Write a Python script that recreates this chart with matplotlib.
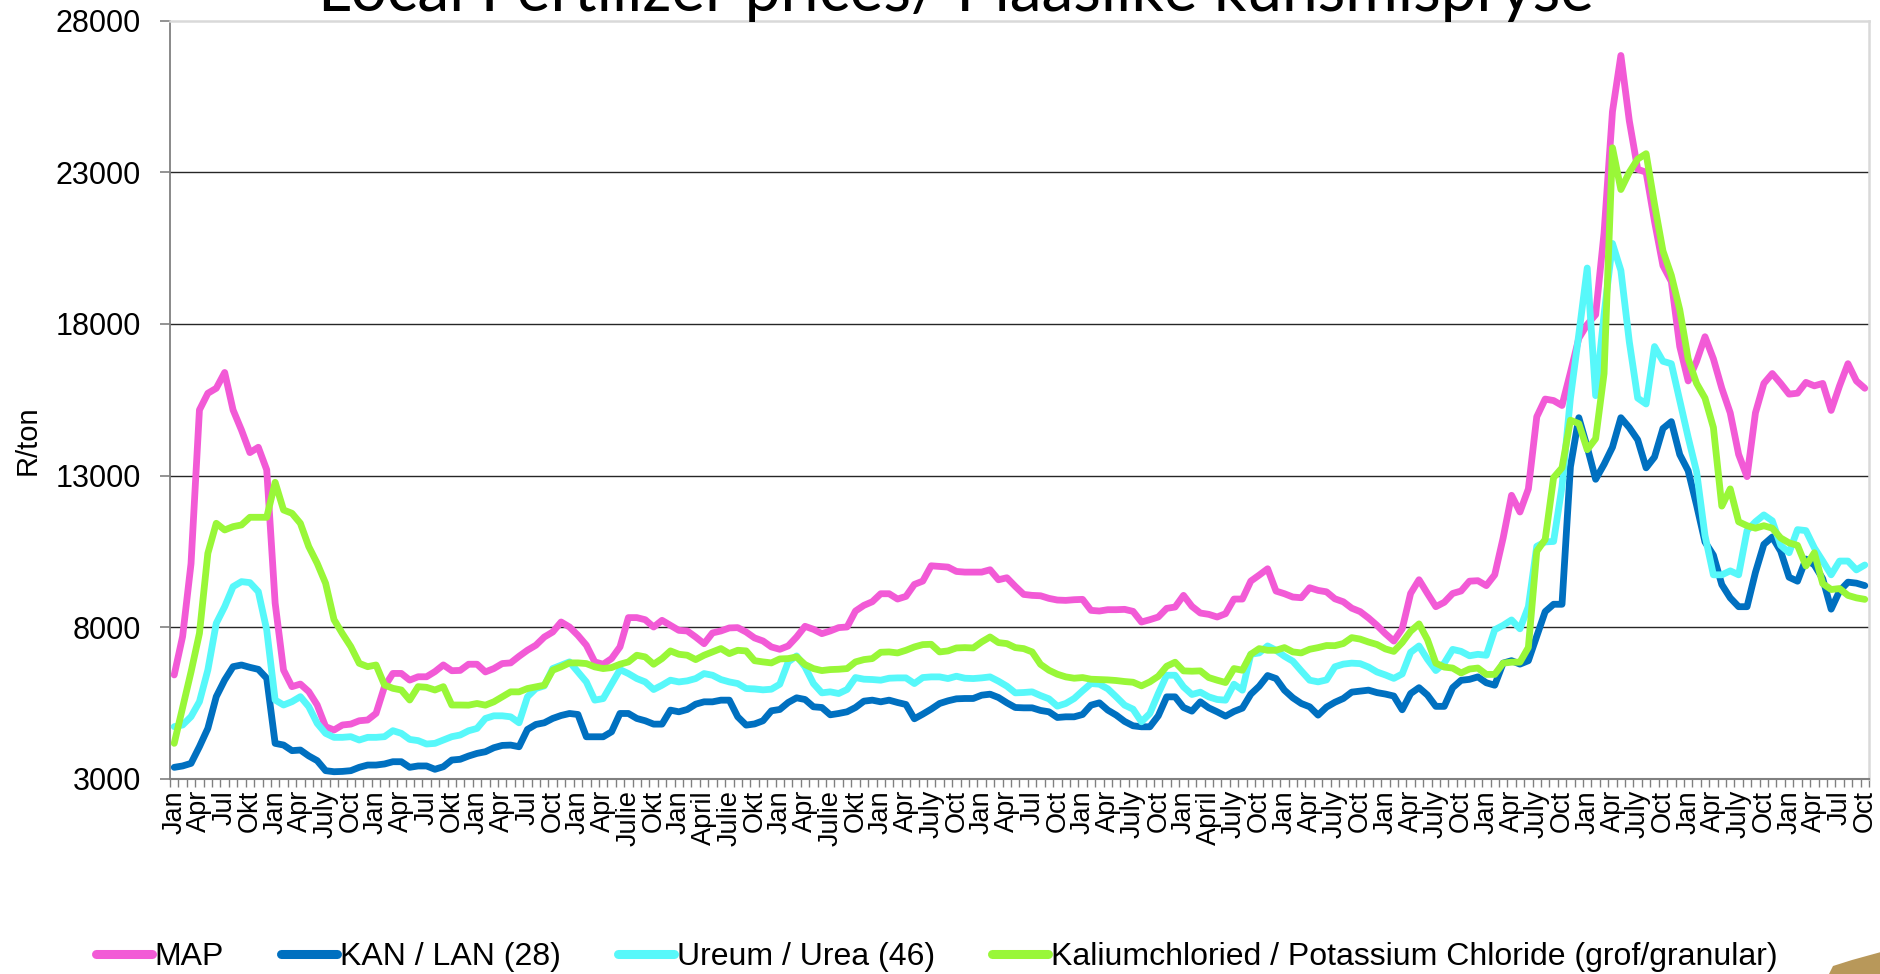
import numpy as np
import matplotlib
matplotlib.use("Agg")
import matplotlib.pyplot as plt
from matplotlib.lines import Line2D
from matplotlib.patches import Polygon

# ---------------- data (monthly, Jan 2008 .. Oct 2024) ----------------
year_labels = [
    ["Jan", "Apr", "Jul", "Okt"],
    ["Jan", "Apr", "July", "Oct"],
    ["Jan", "Apr", "Jul", "Okt"],
    ["Jan", "Apr", "Jul", "Oct"],
    ["Jan", "Apr", "Julie", "Okt"],
    ["Jan", "April", "Julie", "Okt"],
    ["Jan", "Apr", "Julie", "Okt"],
    ["Jan", "Apr", "July", "Oct"],
    ["Jan", "Apr", "Jul", "Oct"],
    ["Jan", "Apr", "July", "Oct"],
    ["Jan", "April", "July", "Oct"],
    ["Jan", "Apr", "July", "Oct"],
    ["Jan", "Apr", "July", "Oct"],
    ["Jan", "Apr", "July", "Oct"],
    ["Jan", "Apr", "July", "Oct"],
    ["Jan", "Apr", "July", "Oct"],
    ["Jan", "Apr", "Jul", "Oct"],
]
tick_labels = [lab for yr in year_labels for lab in yr]

map_prices = [
    6430, 7700, 10100, 15165, 15715, 15880, 16400, 15165, 14500, 13760, 13935, 13190,
    8800, 6590, 6044, 6130, 5880, 5440, 4725, 4615, 4780, 4810, 4920, 4945,
    5165, 6045, 6480, 6480, 6260, 6370, 6370, 6540, 6760, 6570, 6580, 6783,
    6783, 6530, 6640, 6805, 6827, 7045, 7245, 7410, 7680, 7845, 8175, 8010,
    7735, 7410, 6860, 6783, 6970, 7355, 8320, 8320, 8250, 8010, 8230, 8065,
    7900, 7880, 7680, 7460, 7815, 7880, 7980, 7990, 7845, 7650, 7550, 7353,
    7276, 7386, 7682, 8033, 7934, 7792, 7880, 7990, 8011, 8537, 8724, 8844,
    9107, 9107, 8932, 9020, 9414, 9524, 10028, 10007, 9985, 9842, 9820, 9820,
    9820, 9897, 9568, 9634, 9349, 9085, 9053, 9040, 8954, 8899, 8888, 8910,
    8921, 8559, 8537, 8581, 8581, 8592, 8526, 8175, 8252, 8340, 8625, 8669,
    9053, 8691, 8471, 8428, 8340, 8450, 8932, 8932, 9524, 9722, 9930, 9195,
    9107, 8998, 8976, 9305, 9217, 9170, 8940, 8841, 8631, 8518, 8307, 8065,
    7790, 7547, 7951, 9116, 9569, 9116, 8680, 8825, 9116, 9197, 9521, 9537,
    9375, 9731, 10945, 12352, 11802, 12563, 14941, 15524, 15475, 15313, 16397, 17530,
    17983, 18307, 21000, 25000, 26850, 24700, 23100, 23000, 21380, 19925, 19400, 17255,
    16122, 16770, 17579, 16850, 15880, 15070, 13700, 12967, 15070, 16040, 16365, 16040,
    15686, 15718, 16074, 15960, 16040, 15150, 15960, 16690, 16122, 15880,
]

kan_prices = [
    3384, 3430, 3515, 4066, 4670, 5714, 6264, 6703, 6758, 6680, 6615, 6320,
    4175, 4120, 3935, 3955, 3760, 3605, 3275, 3240, 3250, 3275, 3385, 3460,
    3460, 3495, 3570, 3570, 3385, 3430, 3430, 3320, 3405, 3625, 3650, 3757,
    3844, 3899, 4030, 4107, 4118, 4063, 4634, 4798, 4853, 4996, 5094, 5160,
    5127, 4392, 4392, 4392, 4557, 5160, 5160, 4996, 4919, 4809, 4809, 5270,
    5215, 5292, 5467, 5544, 5544, 5599, 5599, 5050, 4776, 4815, 4919, 5248,
    5292, 5522, 5676, 5621, 5380, 5357, 5116, 5160, 5215, 5357, 5566, 5599,
    5544, 5599, 5522, 5456, 4985, 5138, 5303, 5489, 5577, 5643, 5654, 5654,
    5763, 5796, 5686, 5511, 5357, 5346, 5346, 5260, 5215, 5028, 5050, 5050,
    5127, 5434, 5511, 5270, 5105, 4897, 4754, 4721, 4721, 5083, 5708, 5708,
    5357, 5237, 5544, 5346, 5215, 5072, 5226, 5336, 5796, 6059, 6410, 6311,
    5927, 5676, 5489, 5380, 5105, 5370, 5530, 5654, 5864, 5897, 5929, 5848,
    5800, 5735, 5282, 5816, 6010, 5767, 5395, 5395, 6010, 6253, 6285, 6366,
    6172, 6091, 6819, 6900, 6787, 6900, 7709, 8518, 8760, 8760, 13291, 14909,
    13938, 12880, 13372, 13938, 14909, 14585, 14181, 13258, 13614, 14553, 14780, 13695,
    13161, 12029, 10815, 10378, 9408, 8971, 8680, 8680, 9812, 10734, 10977, 10508,
    9650, 9521, 10249, 10055, 9602, 8599, 9197, 9489, 9456, 9375,
]

urea_prices = [
    4725, 4780, 5055, 5549, 6593, 8132, 8681, 9341, 9506, 9473, 9176, 7912,
    5604, 5439, 5549, 5714, 5384, 4835, 4505, 4373, 4373, 4395, 4285, 4373,
    4373, 4395, 4593, 4505, 4305, 4265, 4153, 4175, 4285, 4395, 4450, 4590,
    4667, 4996, 5083, 5083, 5050, 4853, 5710, 5983, 6070, 6640, 6750, 6860,
    6530, 6200, 5600, 5650, 6125, 6607, 6475, 6311, 6200, 5950, 6092, 6257,
    6200, 6235, 6311, 6475, 6420, 6279, 6200, 6147, 5982, 5970, 5939, 5960,
    6125, 6860, 7057, 6695, 6147, 5840, 5873, 5818, 5950, 6344, 6290, 6279,
    6257, 6322, 6333, 6333, 6147, 6344, 6366, 6366, 6311, 6388, 6322, 6311,
    6333, 6366, 6224, 6060, 5840, 5851, 5873, 5750, 5643, 5401, 5489, 5654,
    5906, 6147, 6125, 5972, 5708, 5434, 5302, 4886, 5160, 5818, 6420, 6420,
    6037, 5785, 5862, 5708, 5621, 5599, 6125, 5928, 7112, 7156, 7386, 7243,
    7046, 6882, 6564, 6257, 6202, 6266, 6700, 6787, 6819, 6803, 6690, 6528,
    6430, 6317, 6463, 7175, 7385, 6948, 6576, 6819, 7272, 7207, 7062, 7110,
    7078, 7919, 8065, 8243, 7951, 8680, 10670, 10815, 10831, 12644, 15556, 17660,
    19844, 15637, 18307, 20653, 19763, 17417, 15556, 15362, 17255, 16770, 16689, 15475,
    14262, 13129, 11026, 9731, 9731, 9861, 9731, 11188, 11479, 11705, 11511, 10702,
    10459, 11220, 11188, 10621, 10184, 9731, 10184, 10184, 9893, 10055,
]

kcl_prices = [
    4175, 5350, 6530, 7802, 10440, 11429, 11209, 11319, 11374, 11627, 11627, 11627,
    12781, 11868, 11759, 11429, 10660, 10110, 9451, 8253, 7791, 7363, 6813, 6703,
    6758, 6099, 5989, 5934, 5604, 6044, 6022, 5934, 6044, 5439, 5439, 5434,
    5489, 5434, 5544, 5708, 5873, 5873, 5982, 6037, 6092, 6586, 6696, 6827,
    6827, 6805, 6696, 6640, 6673, 6783, 6860, 7080, 7024, 6783, 6970, 7222,
    7112, 7080, 6936, 7080, 7190, 7300, 7134, 7243, 7222, 6900, 6860, 6827,
    6958, 6969, 7024, 6772, 6640, 6574, 6607, 6618, 6640, 6860, 6936, 6969,
    7178, 7189, 7156, 7243, 7353, 7430, 7441, 7189, 7222, 7320, 7331, 7320,
    7518, 7682, 7496, 7463, 7331, 7298, 7189, 6780, 6586, 6454, 6366, 6322,
    6344, 6289, 6278, 6267, 6246, 6213, 6190, 6070, 6202, 6388, 6717, 6849,
    6564, 6553, 6564, 6344, 6257, 6180, 6640, 6586, 7112, 7298, 7243, 7243,
    7331, 7189, 7156, 7276, 7331, 7400, 7395, 7466, 7660, 7612, 7515, 7434,
    7288, 7207, 7498, 7870, 8113, 7596, 6819, 6689, 6657, 6495, 6625, 6657,
    6447, 6447, 6819, 6851, 6851, 7337, 10508, 10896, 12935, 13258, 14828, 14715,
    13857, 14220, 16365, 23808, 22432, 22999, 23435, 23613, 21947, 20410, 19601, 18468,
    16850, 16041, 15556, 14585, 11996, 12563, 11479, 11349, 11268, 11349, 11268, 10945,
    10783, 10702, 10023, 10459, 9440, 9246, 9278, 9052, 8971, 8922,
]

series_names = ["MAP", "KAN / LAN (28)", "Ureum / Urea (46)",
                "Kaliumchloried / Potassium Chloride (grof/granular)"]
series_values = [map_prices, kan_prices, urea_prices, kcl_prices]
series_colors = ["#F25AD6", "#0070C0", "#57F8FA", "#99F738"]

title_text = "Local Fertilizer prices/ Plaaslike kunsmispryse"
y_label = "R/ton"
y_ticks = [3000, 8000, 13000, 18000, 23000, 28000]

# ---------------- figure ----------------
W, H = 1881, 974
fig = plt.figure(figsize=(W / 100, H / 100), dpi=100)
fig.patch.set_facecolor("white")

ax_left, ax_right, ax_top, ax_bottom = 170, 1869, 20.6, 779
ax = fig.add_axes([ax_left / W, (H - ax_bottom) / H,
                   (ax_right - ax_left) / W, (ax_bottom - ax_top) / H])

n = len(map_prices)
x = np.arange(n)
for i, (vals, col) in enumerate(zip(series_values, series_colors)):
    ax.plot(x, vals, color=col, lw=4.9, solid_joinstyle="round",
            solid_capstyle="round", zorder=3 + i)

ax.set_xlim(-0.5, n - 0.5)
ax.set_ylim(3000, 28000)

# y axis
ax.set_yticks(y_ticks)
ax.set_yticklabels([str(v) for v in y_ticks],
                   family=["Liberation Sans Narrow", "Liberation Sans"], fontsize=22)
ax.tick_params(axis="y", direction="out", length=7, width=1.2, color="#808080", pad=14)
for v in y_ticks[1:-1]:
    ax.axhline(v, color="#262626", lw=1.0, zorder=1)

# x axis: monthly tick marks between categories, labels every 3rd month
label_pos = np.arange(0, n, 3)
ax.set_xticks(label_pos)
ax.set_xticklabels(tick_labels[:len(label_pos)], rotation=90,
                   family="Liberation Sans", fontsize=19.5, va="top", ha="center")
ax.set_xticks(np.arange(-0.5, n, 1), minor=True)
ax.tick_params(axis="x", which="major", length=0, pad=8)
ax.tick_params(axis="x", which="minor", direction="out", length=5.5,
               width=1.0, color="#808080")

for side in ["top", "right"]:
    ax.spines[side].set_color("#D9D9D9")
    ax.spines[side].set_linewidth(1.8)
ax.spines["left"].set_color("#808080")
ax.spines["left"].set_linewidth(1.3)
ax.spines["bottom"].set_color("#808080")
ax.spines["bottom"].set_linewidth(1.5)

# y label
fig.text(28 / W, 1 - 440 / H, y_label, rotation=90, family="Liberation Sans",
         fontsize=21, ha="center", va="center")

# title (cut off at the top of the picture)
fig.text(956 / W, 1 - 11.5 / H, title_text, family="Lato", fontsize=46,
         ha="center", va="baseline")

# legend
handles = [Line2D([0], [0], color=c, lw=6.5, solid_capstyle="round")
           for c in series_colors]
fig.legend(handles, series_names, loc="center left",
           bbox_to_anchor=(96 / W, 1 - 957 / H), bbox_transform=fig.transFigure,
           ncol=4, frameon=False, prop={"family": "Liberation Sans", "size": 23},
           handlelength=1.75, handletextpad=0.08, columnspacing=1.8,
           borderpad=0, borderaxespad=0)

# small decorative corner mark
fig.patches.append(Polygon([(1829 / W, 0 / H), (1833 / W, 8 / H), (1852 / W, 14 / H),
                            (1881 / W, 22 / H), (1881 / W, 0)],
                           closed=True, transform=fig.transFigure,
                           facecolor="#B8985A", edgecolor="none"))

fig.savefig("out.png", dpi=100, facecolor="white")
